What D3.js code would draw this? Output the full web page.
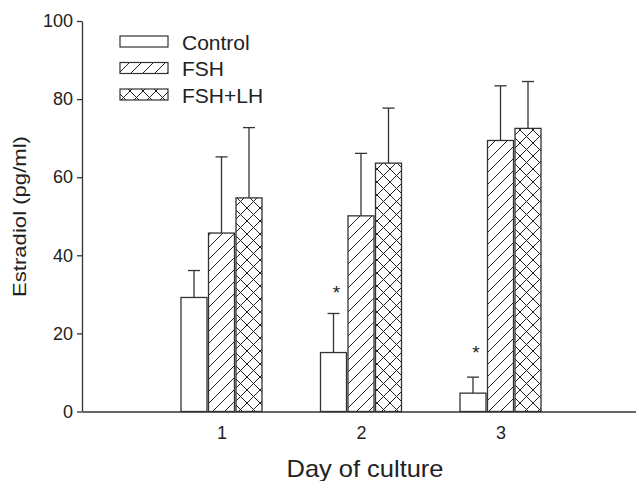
<!DOCTYPE html>
<html>
<head>
<meta charset="utf-8">
<script src="https://cdn.jsdelivr.net/npm/d3@7"></script>
<style>
  body { margin: 0; background: #fff; }
  text { font-family: "Liberation Sans", Arial, sans-serif; fill: #222; }
</style>
</head>
<body>
<div id="chart"></div>
<script>
const days = [1, 2, 3];
const series = ['Control', 'FSH', 'FSH+LH'];
const controlMean = [29.2, 15.1, 4.7];
const controlErr = [36.1, 25.1, 8.8];
const fshMean = [45.7, 50.1, 69.4];
const fshErr = [65.2, 66.1, 83.4];
const fshLhMean = [54.7, 63.6, 72.5];
const fshLhErr = [72.7, 77.7, 84.5];
const starDays = [2, 3];
const starValues = [32, 16.5];
const yTicks = [0, 20, 40, 60, 80, 100];

const W = 636, H = 481;
const Margin = { Top: 21, Left: 82 };

const svg = d3.select('#chart').append('svg')
  .attr('width', W).attr('height', H);

// hatch patterns
const defs = svg.append('defs');
const diag = defs.append('pattern').attr('id', 'diag')
  .attr('patternUnits', 'userSpaceOnUse').attr('width', 12).attr('height', 12);
diag.append('path').attr('d', 'M-3,3 L3,-3 M0,12 L12,0 M9,15 L15,9')
  .attr('stroke', '#222').attr('stroke-width', 1);
const cross = defs.append('pattern').attr('id', 'cross')
  .attr('patternUnits', 'userSpaceOnUse').attr('width', 13).attr('height', 13);
cross.append('path').attr('d', 'M0,0 L13,13 M13,0 L0,13')
  .attr('stroke', '#222').attr('stroke-width', 1);

const fills = { 'Control': '#fff', 'FSH': 'url(#diag)', 'FSH+LH': 'url(#cross)' };

const x = d3.scaleLinear().domain([0, 4]).range([Margin.Left, 640]);
const y = d3.scaleLinear().domain([0, 100]).range([411.5, Margin.Top]);

const barW = 26, step = 27.5;

const rows = [];
series.forEach((s, si) => {
  const means = [controlMean, fshMean, fshLhMean][si];
  const errs = [controlErr, fshErr, fshLhErr][si];
  days.forEach((d, di) => rows.push({ s, si, day: d, mean: means[di], err: errs[di] }));
});

const g = svg.append('g');

// error bars (behind)
g.selectAll('line.err').data(rows).enter().append('line')
  .attr('x1', d => x(d.day) + (d.si - 1) * step)
  .attr('x2', d => x(d.day) + (d.si - 1) * step)
  .attr('y1', d => y(d.mean)).attr('y2', d => y(d.err))
  .attr('stroke', '#333').attr('stroke-width', 1.3);
g.selectAll('line.cap').data(rows).enter().append('line')
  .attr('x1', d => x(d.day) + (d.si - 1) * step - 6)
  .attr('x2', d => x(d.day) + (d.si - 1) * step + 6)
  .attr('y1', d => y(d.err)).attr('y2', d => y(d.err))
  .attr('stroke', '#333').attr('stroke-width', 1.3);

g.selectAll('rect.bar').data(rows).enter().append('rect')
  .attr('x', d => x(d.day) + (d.si - 1) * step - barW / 2)
  .attr('y', d => y(d.mean))
  .attr('width', barW)
  .attr('height', d => y(0) - y(d.mean))
  .attr('fill', d => fills[d.s])
  .attr('stroke', '#333').attr('stroke-width', 1.3);

// significance stars
g.selectAll('text.star').data(starDays).enter().append('text')
  .attr('x', (d, i) => x(d) - step + 3)
  .attr('y', (d, i) => y(starValues[i]) + 12)
  .attr('text-anchor', 'middle').attr('font-size', 19)
  .text('*');

// axes
const yAxis = svg.append('g').attr('transform', `translate(${Margin.Left},0)`)
  .call(d3.axisLeft(y).tickValues(yTicks).tickSize(5).tickPadding(4).tickSizeOuter(0));
yAxis.selectAll('line, path').attr('stroke', '#333').attr('stroke-width', 1.3);

const xAxis = svg.append('g').attr('transform', `translate(0,${y(0)})`)
  .call(d3.axisBottom(x).tickValues(days).tickFormat(d3.format('d')).tickSize(0).tickPadding(15).tickSizeOuter(0));
xAxis.select('path').attr('stroke', '#333').attr('stroke-width', 1.3);

[yAxis, xAxis].forEach(ax => {
  ax.attr('font-size', 18);
  ax.selectAll('.tick text')
    .style('font-size', '18px')
    .style('font-family', '"Liberation Sans", Arial, sans-serif')
    .style('fill', '#222');
});

svg.append('text').attr('x', 365).attr('y', 477)
  .attr('text-anchor', 'middle').attr('font-size', 24)
  .attr('textLength', 157).attr('lengthAdjust', 'spacingAndGlyphs')
  .text('Day of culture');
svg.append('text').attr('transform', 'translate(26,216.5) rotate(-90)')
  .attr('text-anchor', 'middle').attr('font-size', 18)
  .attr('textLength', 161).attr('lengthAdjust', 'spacingAndGlyphs')
  .text('Estradiol (pg/ml)');

// legend
const legend = svg.append('g');
series.forEach((s, i) => {
  const ly = 36 + i * 26.5;
  legend.append('rect').attr('x', 120).attr('y', ly).attr('width', 48).attr('height', 11)
    .attr('fill', fills[s]).attr('stroke', '#333').attr('stroke-width', 1.2);
  legend.append('text').attr('x', 182).attr('y', ly + 13.5)
    .attr('font-size', 21).text(s);
});
</script>
</body>
</html>
